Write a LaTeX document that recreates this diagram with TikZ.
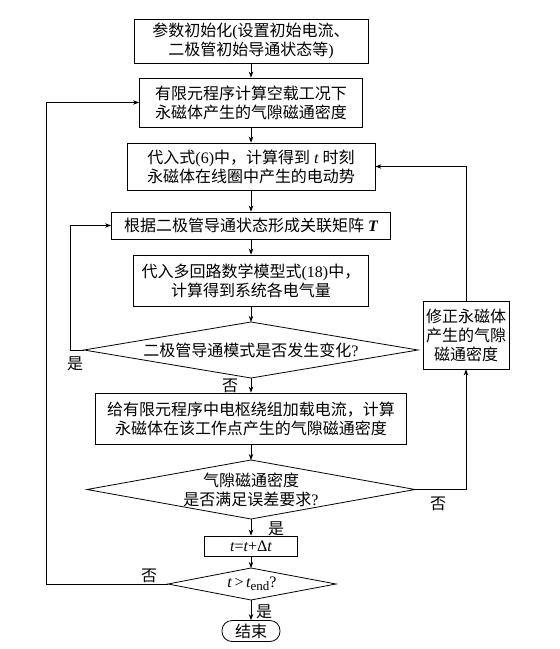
\documentclass[tikz,border=0pt]{standalone}
\usepackage{fontspec}
\setmainfont{Liberation Serif}
\newfontfamily\cjk{Noto Sans CJK SC}
\newfontfamily\latn{Liberation Serif}
\usetikzlibrary{arrows.meta,calc}
\begin{document}
\begin{tikzpicture}[x=1pt,y=-1pt,
  txtfont/.style={font=\cjk\fontsize{16}{19}\selectfont},
  box/.style={draw, line width=0.8pt, inner sep=0pt, align=center, txtfont},
  dtext/.style={inner sep=0pt, align=center, txtfont},
  dline/.style={draw, line width=0.8pt},
  arr/.style={-{Stealth[length=6pt,width=4.5pt]}, line width=0.8pt},
  lbl/.style={inner sep=0pt, txtfont}]
\fill[white] (0,0) rectangle (560,649);
\useasboundingbox (0,0) rectangle (560,649);

% boxes
\node[box, minimum width=234, minimum height=44] (b1) at (251,41)
  {参数初始化{\latn(}设置初始电流、\\二极管初始导通状态等{\latn)}};
\node[box, minimum width=223, minimum height=49] (b2) at (251,102.5)
  {有限元程序计算空载工况下\\永磁体产生的气隙磁通密度};
\node[box, minimum width=248, minimum height=47] (b3) at (251,166.5)
  {代入式{\latn(6)}中，计算得到{\latn\itshape\ t\ }时刻\\永磁体在线圈中产生的电动势};
\node[box, minimum width=279, minimum height=27] (b4) at (251,225.5)
  {根据二极管导通状态形成关联矩阵{\latn\bfseries\itshape\ T}};
\node[box, minimum width=235, minimum height=51] (b5) at (251,280.5)
  {代入多回路数学模型式{\latn(18)}中，\\计算得到系统各电气量};

% diamond 1
\node[dtext] (d1) at (251,350) {二极管导通模式是否发生变化{\latn ?}};
\coordinate (d1w) at (84,350);  \coordinate (d1e) at (418,350);
\coordinate (d1n) at (251,322); \coordinate (d1s) at (251,378);
\draw[dline] (d1w) -- (d1n) -- (d1e) -- (d1s) -- cycle;

\node[box, minimum width=86, minimum height=68] (rb) at (466,335)
  {修正永磁体\\产生的气隙\\磁通密度};

\node[box, minimum width=311, minimum height=51] (b6) at (251,418.5)
  {给有限元程序中电枢绕组加载电流，计算\\永磁体在该工作点产生的气隙磁通密度};

% diamond 2
\node[dtext] (d2) at (251,489.5) {气隙磁通密度\\是否满足误差要求{\latn ?}};
\coordinate (d2w) at (87,489.5);  \coordinate (d2e) at (415,489.5);
\coordinate (d2n) at (251,460);   \coordinate (d2s) at (251,519);
\draw[dline] (d2w) -- (d2n) -- (d2e) -- (d2s) -- cycle;

\node[box, minimum width=93, minimum height=20] (b7) at (251,546)
  {\latn\itshape t\upshape=\itshape t\upshape+Δ\itshape t};

% diamond 3
\node[dtext] (d3) at (252,584)
  {\latn\itshape t\,\upshape>\,\itshape t\upshape\raisebox{-0.35ex}{\fontsize{13}{13}\selectfont end}?};
\coordinate (d3w) at (168,584);  \coordinate (d3e) at (336,584);
\coordinate (d3n) at (251,568);  \coordinate (d3s) at (251,600);
\draw[dline] (d3w) -- (d3n) -- (d3e) -- (d3s) -- cycle;

\node[box, rounded corners=10pt, minimum width=58, minimum height=21] (e) at (251,631) {结束};

% main flow
\draw[arr] (b1) -- (b2);
\draw[arr] (b2) -- (b3);
\draw[arr] (b3) -- (b4);
\draw[arr] (b4) -- (b5);
\draw[arr] (b5) -- (d1n);
\draw[arr] (d1s) -- (b6);
\draw[arr] (b6) -- (d2n);
\draw[arr] (d2s) -- (b7);
\draw[arr] (b7) -- (d3n);
\draw[arr] (d3s) -- (e);

% loops
\coordinate (L1) at (46,0);
\coordinate (L2) at (70,0);
\draw[arr] (d3w) -- (d3w -| L1) |- (b2.west);
\draw[arr] (d1w) -- (d1w -| L2) |- (b4.west);
\draw[arr] (d2e) -| (rb.south);
\draw[arr] (rb.north) |- (b3.east);

% labels
\node[lbl] at (75,364) {是};
\node[lbl] at (230,386) {否};
\node[lbl] at (438,504) {否};
\node[lbl] at (276,529) {是};
\node[lbl] at (149,576) {否};
\node[lbl] at (264,612) {是};
\end{tikzpicture}
\end{document}
